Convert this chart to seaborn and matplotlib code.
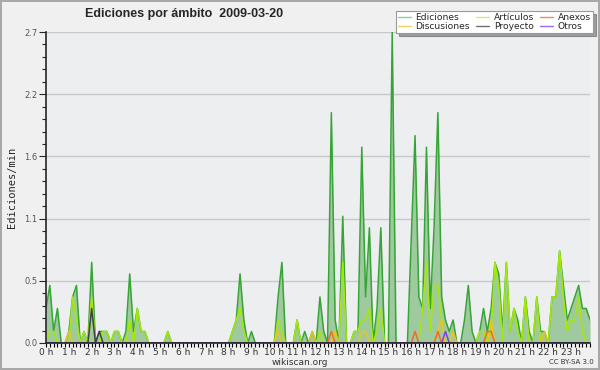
#!/usr/bin/env python3
"""
Edits per minute by namespace, one day in 10-minute slots (wikiscan style)
"""

import numpy as np
import pandas as pd
import matplotlib
matplotlib.use("Agg")
import matplotlib.pyplot as plt
import seaborn as sns
from matplotlib.lines import Line2D
from matplotlib.ticker import MultipleLocator

# values are edits/min, one value per 10-minute slot (12 slots per row = 2 hours)
ediciones = [
    0.3, 0.5, 0.1, 0.3, 0, 0, 0.1, 0.4, 0.5, 0, 0.1, 0,
    0.7, 0, 0.1, 0.1, 0.1, 0, 0.1, 0.1, 0, 0.1, 0.6, 0.1,
    0.3, 0.1, 0.1, 0, 0, 0, 0, 0, 0.1, 0, 0, 0,
    0, 0, 0, 0, 0, 0, 0, 0, 0, 0, 0, 0,
    0, 0.1, 0.2, 0.6, 0.2, 0, 0.1, 0, 0, 0, 0, 0,
    0, 0.4, 0.7, 0, 0, 0, 0.2, 0, 0.1, 0, 0.1, 0,
    0.4, 0.1, 0, 2.0, 0.2, 0, 1.1, 0, 0, 0.1, 0.1, 1.7,
    0.4, 1.0, 0, 0.3, 1.0, 0, 0, 2.7, 0, 0, 0, 0,
    0.9, 1.8, 0.4, 0.3, 1.7, 0.3, 1.0, 2.0, 0.4, 0.2, 0.1, 0.2,
    0, 0, 0.2, 0.5, 0.1, 0, 0.1, 0.3, 0.1, 0.3, 0.7, 0.6,
    0.1, 0.7, 0.1, 0.3, 0.2, 0, 0.4, 0.1, 0, 0.4, 0.1, 0.1,
    0, 0.4, 0.4, 0.8, 0.5, 0.2, 0.3, 0.4, 0.5, 0.3, 0.3, 0.2,
]
articulos = [
    0, 0.1, 0.1, 0, 0, 0, 0, 0.4, 0.2, 0, 0.1, 0,
    0.4, 0, 0, 0.1, 0.1, 0, 0.1, 0.1, 0, 0, 0.2, 0,
    0.3, 0.1, 0.1, 0, 0, 0, 0, 0, 0.1, 0, 0, 0,
    0, 0, 0, 0, 0, 0, 0, 0, 0, 0, 0, 0,
    0, 0.1, 0.2, 0.3, 0.1, 0, 0, 0, 0, 0, 0, 0,
    0, 0.2, 0.1, 0, 0, 0, 0.2, 0, 0, 0, 0, 0,
    0.1, 0, 0, 0, 0, 0, 0.7, 0, 0, 0.1, 0.1, 0.2,
    0.2, 0.3, 0, 0.1, 0.3, 0, 0, 0, 0, 0, 0, 0,
    0, 0, 0, 0.3, 0.7, 0.1, 0.5, 0.5, 0.2, 0, 0, 0,
    0, 0, 0, 0, 0, 0, 0.1, 0.1, 0, 0.1, 0.7, 0.5,
    0, 0.7, 0.1, 0.3, 0.1, 0, 0.4, 0, 0, 0.4, 0, 0,
    0, 0.4, 0.4, 0.8, 0.4, 0.1, 0.2, 0.2, 0.4, 0.1, 0, 0,
]
discusiones = [
    0, 0, 0, 0, 0, 0, 0.1, 0, 0, 0, 0, 0,
    0, 0, 0, 0, 0, 0, 0, 0, 0, 0, 0, 0,
    0, 0, 0, 0, 0, 0, 0, 0, 0, 0, 0, 0,
    0, 0, 0, 0, 0, 0, 0, 0, 0, 0, 0, 0,
    0, 0, 0, 0, 0, 0, 0, 0, 0, 0, 0, 0,
    0, 0.1, 0, 0, 0, 0, 0, 0, 0, 0, 0.1, 0,
    0, 0, 0, 0, 0.1, 0, 0, 0, 0, 0, 0, 0.1,
    0.1, 0, 0, 0, 0, 0, 0, 0, 0, 0, 0, 0,
    0, 0, 0, 0, 0, 0, 0, 0.1, 0.2, 0, 0, 0.1,
    0, 0, 0, 0, 0, 0, 0, 0, 0, 0.2, 0, 0,
    0, 0, 0, 0, 0, 0, 0, 0, 0, 0, 0, 0.1,
    0, 0, 0, 0, 0, 0, 0, 0, 0, 0, 0, 0,
]
anexos = [
    0, 0, 0, 0, 0, 0, 0, 0, 0, 0, 0, 0,
    0, 0, 0, 0, 0, 0, 0, 0, 0, 0, 0, 0,
    0, 0, 0, 0, 0, 0, 0, 0, 0, 0, 0, 0,
    0, 0, 0, 0, 0, 0, 0, 0, 0, 0, 0, 0,
    0, 0, 0, 0, 0, 0, 0, 0, 0, 0, 0, 0,
    0, 0, 0, 0, 0, 0, 0, 0, 0, 0, 0, 0,
    0, 0, 0, 0.1, 0, 0, 0, 0, 0, 0, 0, 0,
    0, 0, 0, 0, 0, 0, 0, 0, 0, 0, 0, 0,
    0, 0.1, 0, 0, 0, 0, 0, 0.1, 0, 0, 0, 0,
    0, 0, 0, 0, 0, 0, 0, 0, 0.1, 0.1, 0, 0,
    0, 0, 0, 0, 0, 0, 0, 0, 0, 0, 0, 0,
    0, 0, 0, 0, 0, 0, 0, 0, 0, 0, 0, 0,
]
proyecto = [
    0, 0, 0, 0, 0, 0, 0, 0, 0, 0, 0, 0,
    0.3, 0, 0.1, 0, 0, 0, 0, 0, 0, 0, 0, 0,
] + [0] * 120
otros = [0] * 96 + [
    0, 0, 0, 0, 0, 0, 0, 0, 0, 0.1, 0, 0,
] + [0] * 36

hour_labels = [f"{h} h" for h in range(24)]
y_ticks = [0.0, 0.54, 1.08, 1.62, 2.16, 2.7]
y_tick_labels = ["0.0", "0.5", "1.1", "1.6", "2.2", "2.7"]

colors = {
    "Ediciones": "#36a536",
    "Artículos": "#a6e80a",
    "Anexos": "#f26a2a",
    "Discusiones": "#f2c316",
    "Proyecto": "#404040",
    "Otros": "#7b3ff0",
}
legend_colors = {
    "Ediciones": "#8fd08f",
    "Artículos": "#cdf06a",
    "Anexos": "#f08a5a",
    "Discusiones": "#f5d35e",
    "Proyecto": "#707070",
    "Otros": "#9a6af0",
}
series = {
    "Ediciones": ediciones,
    "Artículos": articulos,
    "Discusiones": discusiones,
    "Anexos": anexos,
    "Proyecto": proyecto,
    "Otros": otros,
}

slots = np.arange(len(ediciones))
df = pd.concat(
    [pd.DataFrame({"slot": slots, "value": vals, "ambito": name}) for name, vals in series.items()],
    ignore_index=True,
)

sns.set_style("ticks")
plt.rcParams["font.family"] = ["DejaVu Sans"]

fig = plt.figure(figsize=(6, 3.7), dpi=100)
fig.patch.set_facecolor("#f0f0f0")
fig.patch.set_edgecolor("#a8a8a8")
fig.patch.set_linewidth(1.5)
ax = fig.add_axes([0.0767, 0.073, 0.9067, 0.8405])
ax.set_facecolor("#edeef0")

ax.fill_between(slots, ediciones, color="#9fc99f", lw=0, zorder=1)
for name, vals in series.items():
    sns.lineplot(
        data=df[df["ambito"] == name], x="slot", y="value",
        color=colors[name], lw=1.1, estimator=None, ax=ax, zorder=2,
        legend=False,
    )

ax.set_xlim(0, len(ediciones) - 1)
ax.set_ylim(0, 2.7)
ax.set_xticks(slots[::6])
ax.set_xticklabels(hour_labels)
ax.xaxis.set_minor_locator(MultipleLocator(1))
ax.set_yticks(y_ticks)
ax.set_yticklabels(y_tick_labels)
ax.yaxis.set_minor_locator(MultipleLocator(0.108))
ax.tick_params(axis="x", which="both", length=3, width=0.8, color="black",
               labelsize=6.5, pad=0.5, labelcolor="#333333")
ax.tick_params(axis="y", which="major", length=5, width=0.8, labelsize=6,
               pad=1, labelcolor="#555555")
ax.tick_params(axis="y", which="minor", length=3, width=0.8)
ax.grid(axis="y", color="#c8c8c8", lw=1)
ax.set_axisbelow(True)
sns.despine(ax=ax, top=True, right=True)
for side in ("left", "bottom"):
    ax.spines[side].set_linewidth(1.2)
    ax.spines[side].set_zorder(5)
ax.set_xlabel("")
ax.set_ylabel("Ediciones/min", family="DejaVu Sans Mono", fontsize=7.5, labelpad=5)

order = ["Ediciones", "Discusiones", "Artículos", "Proyecto", "Anexos", "Otros"]
handles = [Line2D([], [], color=legend_colors[n], lw=1) for n in order]
leg = ax.legend(
    handles, order, ncol=3, loc="upper right",
    bbox_to_anchor=(0.988, 0.969), bbox_transform=fig.transFigure,
    fontsize=6.6, frameon=True, fancybox=False, shadow=True,
    borderpad=0.2, labelspacing=0.0, handlelength=1.4, handletextpad=0.5,
    columnspacing=0.7, borderaxespad=0,
)
leg.get_frame().set_edgecolor("#999999")
leg.get_frame().set_linewidth(0.8)
leg.get_frame().set_facecolor("white")
leg.get_frame().set_alpha(1)
leg.set_zorder(10)

fig.text(0.142, 0.962, "Ediciones por ámbito  2009-03-20", fontsize=9,
         family="Liberation Sans", weight="bold", va="center", ha="left")
fig.text(0.5, 0.021, "wikiscan.org", fontsize=6.5, ha="center", va="center",
         color="#333333")
fig.text(0.953, 0.021, "CC BY-SA 3.0", fontsize=5, ha="center", va="center",
         color="#333333")

fig.savefig("out.png", dpi=100, facecolor=fig.get_facecolor(),
            edgecolor=fig.get_edgecolor())
plt.close(fig)
